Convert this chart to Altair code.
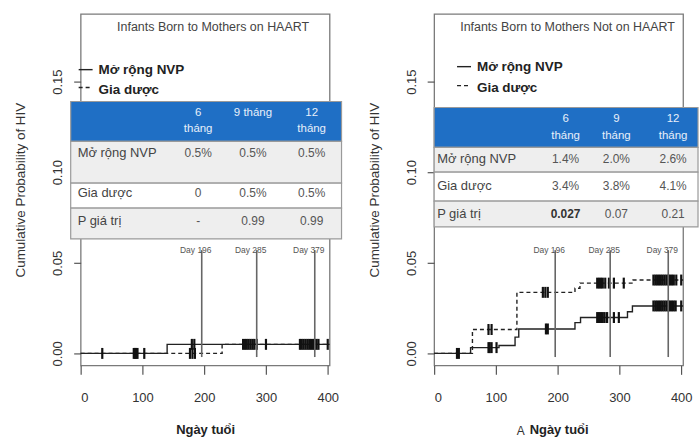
import altair as alt
import pandas as pd

FONT = "Liberation Sans"

# ---------------- data ----------------
days = [196, 285, 379]
day_labels = ["Day 196", "Day 285", "Day 379"]

# Left panel: infants born to mothers on HAART
L_title = "Infants Born to Mothers on HAART"
L_nvp_t = [0, 140, 403]
L_nvp_p = [0.0, 0.005, 0.005]
L_plc_t = [0, 229, 403]
L_plc_p = [0.0, 0.005, 0.005]
L_nvp_cens = [35, 86, 88, 90, 92, 103, 180, 184, 263, 266, 269, 272, 275, 278,
              281, 285, 300, 355, 358, 361, 364, 367, 370, 373, 376, 379, 382,
              385, 400]
L_plc_cens = [177, 181, 185]

# Right panel: infants born to mothers not on HAART
R_title = "Infants Born to Mothers Not on HAART"
R_nvp_t = [0, 59, 105, 131, 137, 228, 237, 313, 321, 403]
R_nvp_p = [0.0, 0.0032, 0.0044, 0.009, 0.0135, 0.017, 0.0198, 0.023, 0.0262, 0.0262]
R_plc_t = [0, 62, 134, 228, 236, 322, 403]
R_plc_p = [0.0, 0.0132, 0.0337, 0.036, 0.0388, 0.0405, 0.0405]
R_nvp_cens = [37, 40, 88, 90, 93, 101, 181, 184, 264, 267, 270, 273, 276, 280,
              291, 299, 355, 358, 361, 364, 367, 370, 373, 376, 379, 382, 385,
              388, 391, 400]
R_plc_cens = [88, 93, 176, 180, 184, 264, 267, 270, 273, 277, 283, 291, 307,
              355, 358, 361, 364, 367, 370, 373, 376, 379, 382, 385, 388, 392, 400]

legend_labels = ["Mở rộng NVP", "Gia dược"]
row_labels = ["Mở rộng NVP", "Gia dược", "P giá trị"]
L_heads = ["6\ntháng", "9 tháng", "12\ntháng"]
R_heads = ["6\ntháng", "9\ntháng", "12\ntháng"]
L_vals = [["0.5%", "0.5%", "0.5%"], ["0", "0.5%", "0.5%"], ["-", "0.99", "0.99"]]
R_vals = [["1.4%", "2.0%", "2.6%"], ["3.4%", "3.8%", "4.1%"], ["0.027", "0.07", "0.21"]]
R_bold = [(2, 0)]

# ---------------- layout (pixels relative to plot area) ----------------
L_lay = dict(tx0=-10, tx1=262, rows=[88, 128, 170, 195, 226], label_x=-3,
             col_x=[118, 173, 232], head_y=94, head_lh=16, row_y=[140, 180, 208],
             title_x=133, title_y=13, leg_x0=-2, leg_x1=12, leg_y=[56, 74],
             leg_tx=18, leg_ty=[56, 76])
R_lay = dict(tx0=0, tx1=265, rows=[94, 134, 159, 188, 214], label_x=3,
             col_x=[132, 183, 240], head_y=100, head_lh=17, row_y=[146, 173, 201],
             title_x=134, title_y=13, leg_x0=23, leg_x1=37, leg_y=[53, 72],
             leg_tx=43, leg_ty=[53, 74])

W, H = 250, 353
XDOM = [0, 403]
YDOM = [-0.0066, 0.1874]


def step_at(ts, ps, t):
    v = ps[0]
    for ti, pi in zip(ts, ps):
        if ti <= t:
            v = pi
    return v


def panel(title, nvp_t, nvp_p, plc_t, plc_p, nvp_c, plc_c, heads, vals, bold, lay, extra_a):
    xs = alt.Scale(domain=XDOM, nice=False, zero=False)
    ys = alt.Scale(domain=YDOM, nice=False, zero=False)
    xax = alt.Axis(values=[0, 100, 200, 300, 400], format="d", grid=False, domain=False,
                   tickSize=9, tickColor="#555", tickWidth=1.2,
                   labelFont=FONT, labelFontSize=13, labelColor="#333", labelPadding=17,
                   titleFont=FONT, titleFontSize=13, titleFontWeight="bold",
                   titleColor="#222", titlePadding=19)
    yax = alt.Axis(values=[0, 0.05, 0.10, 0.15], format=".2f", grid=False, domain=False,
                   tickSize=7, tickColor="#555", tickWidth=1.2,
                   labelAngle=270, labelAlign="center", labelBaseline="bottom",
                   labelFont=FONT, labelFontSize=13, labelColor="#333", labelPadding=9,
                   titleFont=FONT, titleFontSize=13.5, titleFontWeight="normal",
                   titleColor="#333", titlePadding=24)

    nvp = pd.DataFrame({"t": nvp_t, "p": nvp_p})
    plc = pd.DataFrame({"t": plc_t, "p": plc_p})
    X = lambda f: alt.X(f, scale=xs, axis=xax, title="Ngày tuổi")
    Y = lambda f: alt.Y(f, scale=ys, axis=yax, title="Cumulative Probability of HIV")

    solid = alt.Chart(nvp).mark_line(interpolate="step-after", color="#222",
                                     strokeWidth=1.4).encode(x=X("t:Q"), y=Y("p:Q"))
    dashed = alt.Chart(plc).mark_line(interpolate="step-after", color="#222",
                                      strokeWidth=1.4, strokeDash=[4, 3]).encode(
        x=X("t:Q"), y=Y("p:Q"))

    cens = pd.DataFrame(
        [{"t": t, "p": step_at(nvp_t, nvp_p, t)} for t in nvp_c]
        + [{"t": t, "p": step_at(plc_t, plc_p, t)} for t in plc_c])
    ticks = alt.Chart(cens).mark_tick(orient="vertical", size=11, thickness=2.2,
                                      color="#111", opacity=1).encode(x=X("t:Q"), y=Y("p:Q"))

    dd = pd.DataFrame({"d": days, "lab": day_labels, "y0": [-0.002] * 3, "y1": [0.057] * 3})
    vlines = alt.Chart(dd).mark_rule(color="#666", strokeWidth=1.6).encode(
        x=X("d:Q"), y=Y("y0:Q"), y2="y1:Q")
    vtext = alt.Chart(dd).mark_text(font=FONT, fontSize=8.5, color="#555", dx=-6,
                                    baseline="middle").encode(
        x=X("d:Q"), y=Y("y1:Q"), text="lab:N")

    # ---- table ----
    r = lay["rows"]
    rect_rows = [{"x0": lay["tx0"], "x1": lay["tx1"], "y0": r[0], "y1": r[1], "f": "#1f6fc5"},
                 {"x0": lay["tx0"], "x1": lay["tx1"], "y0": r[1], "y1": r[2], "f": "#eeeeee"},
                 {"x0": lay["tx0"], "x1": lay["tx1"], "y0": r[2], "y1": r[3], "f": "#ffffff"},
                 {"x0": lay["tx0"], "x1": lay["tx1"], "y0": r[3], "y1": r[4], "f": "#eeeeee"}]
    rects = alt.Chart(pd.DataFrame(rect_rows)).mark_rect(stroke="#9a9a9a", strokeWidth=1.2).encode(
        x=alt.X("x0:Q", scale=None), x2="x1:Q",
        y=alt.Y("y0:Q", scale=None), y2="y1:Q",
        fill=alt.Fill("f:N", scale=None))

    hd = pd.DataFrame({"x": lay["col_x"], "y": [lay["head_y"]] * 3, "s": heads})
    htext = alt.Chart(hd).mark_text(font=FONT, fontSize=11.5, color="#e8f0fa", baseline="top",
                                    align="center", lineBreak="\n",
                                    lineHeight=lay["head_lh"]).encode(
        x=alt.X("x:Q", scale=None), y=alt.Y("y:Q", scale=None), text="s:N")

    cells = []
    for i, row in enumerate(vals):
        for j, v in enumerate(row):
            cells.append({"x": lay["col_x"][j], "y": lay["row_y"][i], "s": v,
                          "w": "bold" if (i, j) in bold else "normal"})
    cd = pd.DataFrame(cells)
    ctext = alt.Chart(cd[cd.w == "normal"]).mark_text(font=FONT, fontSize=12, color="#555",
                                                     baseline="middle", align="center").encode(
        x=alt.X("x:Q", scale=None), y=alt.Y("y:Q", scale=None), text="s:N")
    layers_bold = []
    if (cd.w == "bold").any():
        layers_bold.append(alt.Chart(cd[cd.w == "bold"]).mark_text(
            font=FONT, fontSize=12, color="#333", fontWeight="bold",
            baseline="middle", align="center").encode(
            x=alt.X("x:Q", scale=None), y=alt.Y("y:Q", scale=None), text="s:N"))

    rl = pd.DataFrame({"x": [lay["label_x"]] * 3, "y": lay["row_y"], "s": row_labels})
    rtext = alt.Chart(rl).mark_text(font=FONT, fontSize=13, color="#444",
                                    baseline="middle", align="left").encode(
        x=alt.X("x:Q", scale=None), y=alt.Y("y:Q", scale=None), text="s:N")

    # ---- title & legend ----
    td = pd.DataFrame({"x": [lay["title_x"]], "y": [lay["title_y"]], "s": [title]})
    ttext = alt.Chart(td).mark_text(font=FONT, fontSize=12.5, color="#444",
                                    baseline="middle", align="center").encode(
        x=alt.X("x:Q", scale=None), y=alt.Y("y:Q", scale=None), text="s:N")

    lg = pd.DataFrame({"x0": [lay["leg_x0"]], "x1": [lay["leg_x1"]], "y": [lay["leg_y"][0]]})
    lg2 = pd.DataFrame({"x0": [lay["leg_x0"]], "x1": [lay["leg_x1"]], "y": [lay["leg_y"][1]]})
    lsolid = alt.Chart(lg).mark_rule(color="#222", strokeWidth=1.4).encode(
        x=alt.X("x0:Q", scale=None), x2="x1:Q", y=alt.Y("y:Q", scale=None))
    ldash = alt.Chart(lg2).mark_rule(color="#222", strokeWidth=1.4, strokeDash=[4, 3]).encode(
        x=alt.X("x0:Q", scale=None), x2="x1:Q", y=alt.Y("y:Q", scale=None))
    lt = pd.DataFrame({"x": [lay["leg_tx"]] * 2, "y": lay["leg_ty"], "s": legend_labels})
    ltext = alt.Chart(lt).mark_text(font=FONT, fontSize=13.5, fontWeight="bold", color="#222",
                                    baseline="middle", align="left").encode(
        x=alt.X("x:Q", scale=None), y=alt.Y("y:Q", scale=None), text="s:N")

    layers = [solid, dashed, ticks, vlines, vtext, rects, htext, ctext] + layers_bold + \
             [rtext, ttext, lsolid, ldash, ltext]
    if extra_a:
        ad = pd.DataFrame({"x": [87], "y": [419], "s": ["A"]})
        layers.append(alt.Chart(ad).mark_text(font=FONT, fontSize=12, color="#333",
                                              baseline="middle", align="center").encode(
            x=alt.X("x:Q", scale=None), y=alt.Y("y:Q", scale=None), text="s:N"))
    return alt.layer(*layers).properties(width=W, height=H)


left = panel(L_title, L_nvp_t, L_nvp_p, L_plc_t, L_plc_p, L_nvp_cens, L_plc_cens,
             L_heads, L_vals, [], L_lay, False)
right = panel(R_title, R_nvp_t, R_nvp_p, R_plc_t, R_plc_p, R_nvp_cens, R_plc_cens,
              R_heads, R_vals, R_bold, R_lay, True)

chart = alt.hconcat(left, right, spacing=105, bounds="flush").properties(
    padding={"left": 13, "top": 12, "right": 0, "bottom": 0},
    background="white",
).configure_view(stroke="#7a7a7a", strokeWidth=1.3)

chart.save("out.html", embed_options={"renderer": "svg", "actions": False})
